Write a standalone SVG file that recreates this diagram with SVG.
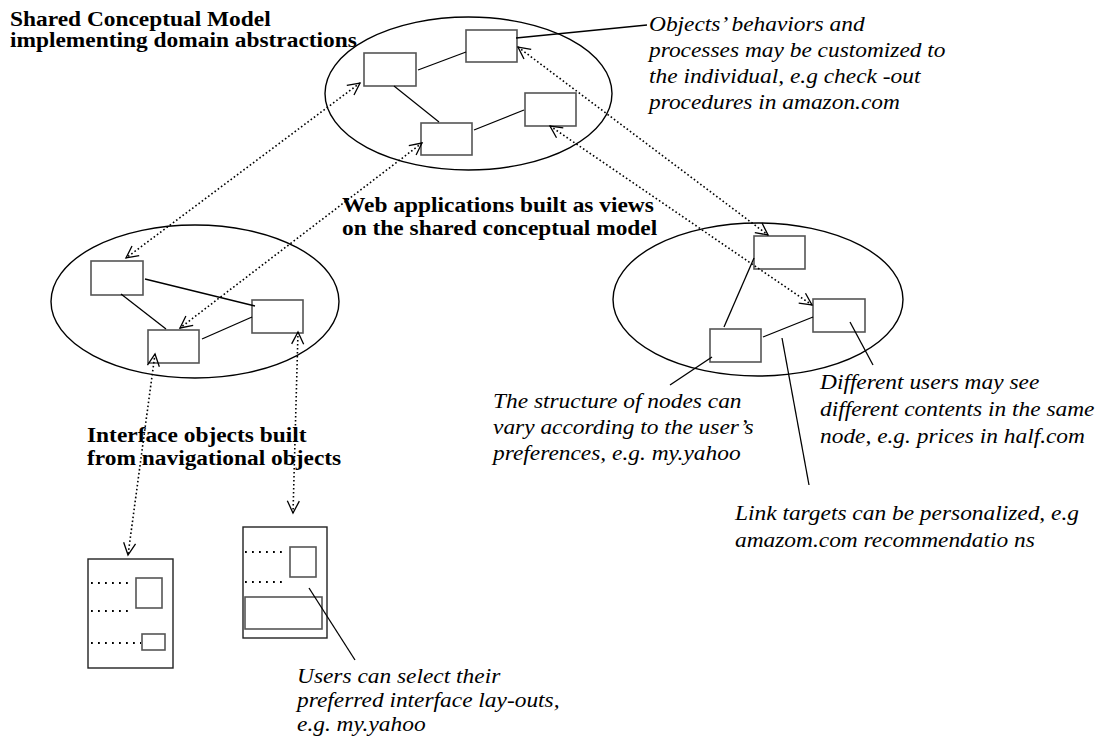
<svg xmlns="http://www.w3.org/2000/svg" width="1111" height="742" viewBox="0 0 1111 742">
<style>
.bg{fill:#fff}
.ell{fill:none;stroke:#000;stroke-width:1.4}
.box{fill:#fff;stroke:#555;stroke-width:1.6}
.page{fill:#fff;stroke:#222;stroke-width:1.4}
.ln{stroke:#000;stroke-width:1.3;fill:none}
.dot{stroke:#000;stroke-width:1.6;stroke-dasharray:1.6 2.4;fill:none;marker-start:url(#v);marker-end:url(#v)}
.fill{stroke:#000;stroke-width:1.8;stroke-dasharray:1.8 5.2;fill:none}
.b{font-family:"Liberation Serif","Times New Roman",serif;font-weight:bold;font-size:20px;fill:#000}
.i{font-family:"Liberation Serif","Times New Roman",serif;font-style:italic;font-size:20px;fill:#000}
</style>
<defs>
<marker id="v" markerUnits="userSpaceOnUse" viewBox="-14 -8 16 16" refX="0" refY="0" markerWidth="16" markerHeight="16" orient="auto-start-reverse">
<path d="M-12,-6 L0,0 L-12,6" fill="none" stroke="#000" stroke-width="1.3"/>
</marker>
</defs>
<rect class="bg" x="0" y="0" width="1111" height="742"/>

<g id="shared-model">
<ellipse class="ell" cx="468.5" cy="93.5" rx="143.5" ry="76.5"/>
<g id="sA"><rect class="box" x="364" y="53" width="52" height="33"/></g>
<g id="sB"><rect class="box" x="466" y="30" width="51" height="32"/></g>
<g id="sC"><rect class="box" x="421" y="123" width="51" height="32"/></g>
<g id="sD"><rect class="box" x="525" y="93" width="51" height="33"/></g>
</g>

<g id="left-app">
<ellipse class="ell" cx="195" cy="301.5" rx="144" ry="76.5"/>
<g id="lA"><rect class="box" x="91" y="261" width="52" height="34"/></g>
<g id="lB"><rect class="box" x="148" y="330" width="51" height="33"/></g>
<g id="lC"><rect class="box" x="252" y="300" width="51" height="33"/></g>
</g>

<g id="right-app">
<ellipse class="ell" cx="758" cy="299.5" rx="145" ry="76.5"/>
<g id="rA"><rect class="box" x="754" y="236" width="51" height="33"/></g>
<g id="rB"><rect class="box" x="813" y="299" width="52" height="33"/></g>
<g id="rC"><rect class="box" x="710" y="329" width="51" height="33"/></g>
</g>

<g id="page1">
<rect class="page" x="88" y="559" width="85" height="109"/>
<rect class="box" x="136" y="578" width="26" height="30"/>
<rect class="box" x="142" y="634" width="23" height="16"/>
<line class="fill" x1="91" y1="583" x2="128" y2="583"/>
<line class="fill" x1="91" y1="611" x2="128" y2="611"/>
<line class="fill" x1="91" y1="643" x2="141" y2="643"/>
</g>

<g id="page2">
<rect class="page" x="243" y="527" width="84" height="111"/>
<rect class="box" x="290" y="547" width="26" height="30"/>
<rect class="box" x="245" y="597" width="77" height="32"/>
<line class="fill" x1="245" y1="552" x2="282" y2="552"/>
<line class="fill" x1="245" y1="582" x2="282" y2="582"/>
</g>

<g id="connectors">
<line class="ln" x1="418" y1="70" x2="466" y2="52"/>
<line class="ln" x1="394" y1="86" x2="439" y2="122"/>
<line class="ln" x1="474" y1="130" x2="524" y2="110"/>
<line class="ln" x1="145" y1="279" x2="255" y2="306"/>
<line class="ln" x1="121" y1="294" x2="166" y2="329"/>
<line class="ln" x1="202" y1="339" x2="252" y2="317"/>
<line class="ln" x1="754" y1="258" x2="724" y2="327"/>
<line class="ln" x1="763" y1="337" x2="813" y2="317"/>

<line class="dot" x1="360" y1="83" x2="126" y2="258"/>
<line class="dot" x1="422" y1="143" x2="180" y2="328"/>
<line class="dot" x1="155" y1="354" x2="128" y2="555"/>
<line class="dot" x1="298" y1="332" x2="293" y2="513"/>
<line class="dot" x1="518" y1="47" x2="768" y2="235"/>
<line class="dot" x1="550" y1="126" x2="812" y2="305"/>

<line class="ln" x1="516" y1="38" x2="647" y2="25"/>
<line class="ln" x1="712" y1="357" x2="670" y2="385"/>
<line class="ln" x1="850" y1="322" x2="873" y2="365"/>
<line class="ln" x1="782" y1="338" x2="809" y2="485"/>
<line class="ln" x1="309" y1="588" x2="355" y2="660"/>
</g>

<g id="labels">
<text class="b" transform="translate(10,26) scale(1.17,1)"><tspan x="0" y="0">Shared Conceptual Model</tspan><tspan x="0" y="21">implementing domain abstractions</tspan></text>
<text class="b" transform="translate(342,212) scale(1.17,1)"><tspan x="0" y="0">Web applications built as views</tspan><tspan x="0" y="23">on the shared conceptual model</tspan></text>
<text class="b" transform="translate(87,442) scale(1.17,1)"><tspan x="0" y="0">Interface objects built</tspan><tspan x="0" y="23">from navigational objects</tspan></text>
<text class="i" transform="translate(649,31) scale(1.17,1)"><tspan x="0" y="0">Objects’ behaviors and</tspan><tspan x="0" y="26">processes may be customized to</tspan><tspan x="0" y="52">the individual, e.g check -out</tspan><tspan x="0" y="78">procedures in amazon.com</tspan></text>
<text class="i" transform="translate(493,408) scale(1.17,1)"><tspan x="0" y="0">The structure of nodes can</tspan><tspan x="0" y="26">vary according to the user’s</tspan><tspan x="0" y="52">preferences, e.g. my.yahoo</tspan></text>
<text class="i" transform="translate(820,389) scale(1.17,1)"><tspan x="0" y="0">Different users may see</tspan><tspan x="0" y="27">different contents in the same</tspan><tspan x="0" y="54">node, e.g. prices in half.com</tspan></text>
<text class="i" transform="translate(735,520) scale(1.17,1)"><tspan x="0" y="0">Link targets can be personalized, e.g</tspan><tspan x="0" y="27">amazom.com recommendatio ns</tspan></text>
<text class="i" transform="translate(297,683) scale(1.17,1)"><tspan x="0" y="0">Users can select their</tspan><tspan x="0" y="24">preferred interface lay-outs,</tspan><tspan x="0" y="48">e.g. my.yahoo</tspan></text>
</g>
</svg>
